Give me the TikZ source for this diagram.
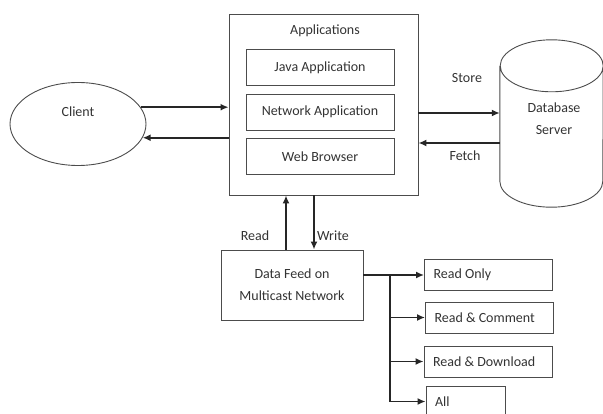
\documentclass[tikz,border=0pt]{standalone}
\usepackage{fontspec}
\setmainfont{Carlito}
\usetikzlibrary{positioning,arrows.meta,shapes.geometric}

\begin{document}
\begin{tikzpicture}[x=1pt,y=1pt,
box/.style={rectangle,draw=black!70,line width=0.9pt,align=center,font=\fontsize{14}{22}\selectfont,text=black!80},
appbox/.style={box,minimum width=148pt,minimum height=36pt},
optbox/.style={box,minimum height=31pt,text width=110pt,inner xsep=9pt,align=flush left},
lbl/.style={font=\fontsize{14}{22}\selectfont,text=black!80},
arrow/.style={-{Latex[length=8pt,width=7pt]},line width=1.6pt,draw=black!85},
trunk/.style={line width=1.1pt,draw=black!85}]
\useasboundingbox (0,0) rectangle (603,-414);
% application layer
\node[box,minimum width=189pt,minimum height=181pt](app) at (323.5,-104.5) {};
\node[lbl](apptitle) at (325,-31) {Applications};
\node[appbox](java) at (320,-67.5) {Java Application};
\node[appbox](netapp) at (320,-112) {Network Application};
\node[appbox](web) at (320,-156.5) {Web Browser};
% client and database
\node[box,ellipse,minimum width=136pt,minimum height=83pt](client) at (78,-124) {};
\node[lbl](clienttxt) at (78,-112) {Client};
\node[minimum width=103pt,minimum height=167pt](db) at (551.5,-123.5) {};
\node[lbl,align=center](dbtxt) at (554,-119) {Database\\Server};
\draw[line width=0.9pt,black!70] ([yshift=-26pt]db.north west) -- ([yshift=26pt]db.south west)
  arc[start angle=180,end angle=360,x radius=51.5pt,y radius=26pt] -- ([yshift=-26pt]db.north east)
  arc[start angle=0,end angle=360,x radius=51.5pt,y radius=26pt];
\draw[arrow](client.15) -- (client.15 -| app.west);
\draw[arrow](client.-12 -| app.west) -- (client.-12);
\draw[arrow]([yshift=-8.5pt]app.east) -- ([yshift=-8.5pt]app.east -| db.west);
\draw[arrow]([yshift=-38.5pt]app.east -| db.west) -- ([yshift=-38.5pt]app.east);
\node[lbl](store) at (467,-78) {Store};
\node[lbl](fetch) at (465,-156) {Fetch};
% data feed
\node[box,minimum width=142pt,minimum height=70pt](feed) at (292,-285) {Data Feed on\\Multicast Network};
\draw[arrow]([xshift=-6pt]feed.north) -- ([xshift=-6pt]feed.north |- app.south);
\draw[arrow]([xshift=22pt]feed.north |- app.south) -- ([xshift=22pt]feed.north);
\node[lbl](read) at (255,-236) {Read};
\node[lbl](write) at (333,-236) {Write};
% access options
\node[optbox](ronly) at (488.5,-275) {Read Only};
\node[optbox](rcomment) at (489.5,-317.5) {Read \& Comment};
\node[optbox](rdownload) at (488,-361.5) {Read \& Download};
\node[optbox,text width=61pt](rall) at (465.5,-401.5) {All};
\coordinate (split) at (390,-275);
\draw[trunk]([yshift=10pt]feed.east) -- (split) -- (split |- rall.west);
\draw[arrow](split) -- (ronly.west);
\foreach \opt in {rcomment,rdownload,rall}
  \draw[arrow](split |- \opt.west) -- (\opt.west);
\end{tikzpicture}
\end{document}
